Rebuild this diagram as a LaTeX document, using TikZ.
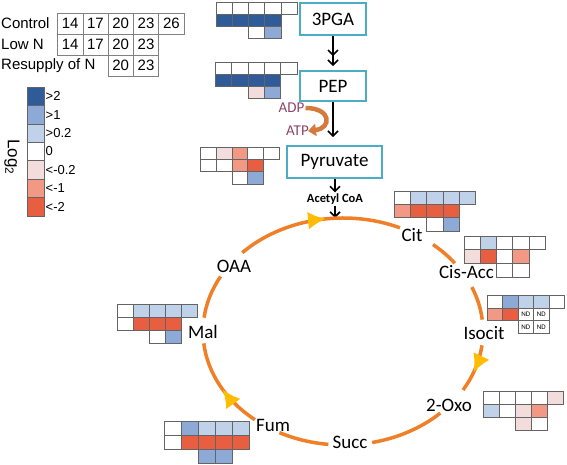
\documentclass[tikz,border=0pt]{standalone}
\usepackage{fontspec}
\setmainfont{Carlito}
\newfontfamily\arialf{Liberation Sans}
\usetikzlibrary{arrows.meta,decorations.markings}
\definecolor{dblue}{RGB}{47,92,152}
\definecolor{mblue}{RGB}{141,170,214}
\definecolor{lblue}{RGB}{192,209,234}
\definecolor{lpink}{RGB}{243,221,220}
\definecolor{hsalmon}{RGB}{241,153,132}
\definecolor{hred}{RGB}{231,94,64}
\definecolor{boxc}{RGB}{75,172,198}
\definecolor{cyc}{RGB}{240,128,40}
\definecolor{arrowgold}{RGB}{255,188,0}
\definecolor{adpc}{RGB}{140,70,105}
\definecolor{curvec}{RGB}{212,122,58}
\definecolor{gridc}{RGB}{100,100,100}
\newcommand{\hmrow}[5]{\foreach \cc [count=\ii from 0] in {#5}{\path[hcell,fill=\cc] ({#1+\ii*#3},{#2}) rectangle ++(#3,-#4);}}
\newcommand{\hmap}[7]{\hmrow{#1}{#2}{#3}{#4}{#5}\hmrow{#1}{#2-#4}{#3}{#4}{#6}\hmrow{#1+2*#3}{#2-2*#4}{#3}{#4}{#7}}
\begin{document}
\begin{tikzpicture}[x=1pt,y=1pt,
  hcell/.style={draw=gridc,line width=0.5pt},
  tcell/.style={draw=gray,line width=0.6pt,minimum width=25.3pt,minimum height=21pt,inner sep=0pt,font=\arialf\fontsize{15}{17}\selectfont},
  tlabel/.style={anchor=west,inner sep=0pt,font=\arialf\fontsize{15}{17}\selectfont},
  legsw/.style={draw=gridc,line width=0.5pt},
  leglabel/.style={anchor=west,inner sep=0pt,font=\arialf\fontsize{13}{15}\selectfont},
  pbox/.style={draw=boxc,line width=1.8pt,fill=white,inner sep=0pt,font=\fontsize{19}{22}\selectfont},
  blk/.style={black,line width=1.6pt},
  cyclabel/.style={inner sep=1pt,font=\fontsize{19}{22}\selectfont},
  cycarc/.style={cyc,line width=3.5pt},
  adplabel/.style={adpc,inner sep=0pt,font=\fontsize{15}{17}\selectfont},
  ndlabel/.style={inner sep=0pt,font=\fontsize{7}{8}\selectfont}]
\fill[white] (0,0) rectangle (567,465);
\useasboundingbox (0,0) rectangle (567,465);
% sampling table
\node[tlabel] (lctrl) at (1,441.5) {Control};
\node[tlabel] (llow) at (1,420.5) {Low N};
\node[tlabel] (lres) at (1,399.5) {Resupply of N};
\foreach \v [count=\i] in {14,17,20,23,26} \node[tcell] (ta\i) at ({57.5+25.3*(\i-0.5)},441.5) {\v};
\foreach \v [count=\i] in {14,17,20,23} \node[tcell] (tb\i) at ({57.5+25.3*(\i-0.5)},420.5) {\v};
\foreach \v [count=\i from 3] in {20,23} \node[tcell] (tc\i) at ({57.5+25.3*(\i-0.5)},399.5) {\v};
% legend
\foreach \col/\lab [count=\i from 0] in {dblue/{>2},mblue/{>1},lblue/{>0.2},white/{0},lpink/{<-0.2},hsalmon/{<-1},hred/{<-2}}{
  \path[legsw,fill=\col] (27,{378-18.4*\i}) rectangle (44,{378-18.4*(\i+1)});
  \node[leglabel] (leg\i) at (45.5,{378-18.4*(\i+0.5)}) {\lab};
}
\node[rotate=-90,inner sep=0pt,font=\arialf\fontsize{17}{19}\selectfont] (log) at (12,308) {Log\textsubscript{2}};
% heatmaps
\hmap{216}{463}{16.2}{12}{white,white,white,white,white}{dblue,dblue,dblue,dblue}{white,mblue}
\hmap{215}{403}{16.4}{12}{white,white,white,white,white}{dblue,dblue,dblue,dblue}{lpink,mblue}
\hmap{200}{318}{15.9}{12.3}{white,lpink,hsalmon,white,white}{white,white,hsalmon,hred}{white,mblue}
\hmap{394}{274}{16.3}{13.3}{white,lblue,lblue,lblue,lblue}{hsalmon,hred,hred,hred}{white,mblue}
\hmap{464}{229}{16.2}{13.7}{white,lblue,white,white,white}{lpink,hred,white,hsalmon}{white,white}
\hmap{487}{170}{15.5}{12.8}{white,mblue,lblue,lblue,white}{hsalmon,hred,white,white}{white,white}
\hmap{483}{74}{16}{13}{white,white,white,white,lpink}{lblue,white,lpink,hsalmon}{lpink,white}
\hmap{117}{161}{16}{13}{white,lblue,lblue,lblue,lblue}{white,hred,hred,hred}{white,mblue}
\hmap{164}{44}{17}{14}{white,mblue,lblue,lblue,lblue}{white,hred,hred,hred,hred}{mblue,mblue}
\node[ndlabel] (nd1) at (525.75,150.8) {ND};
\node[ndlabel] (nd2) at (541.25,150.8) {ND};
\node[ndlabel] (nd3) at (525.75,138) {ND};
\node[ndlabel] (nd4) at (541.25,138) {ND};
% pathway boxes
\node[pbox,minimum width=66pt,minimum height=32pt] (pga) at (333,446) {3PGA};
\node[pbox,minimum width=66pt,minimum height=30pt] (pep) at (333,379) {PEP};
\node[pbox,minimum width=95pt,minimum height=32pt] (pyr) at (334.5,303) {Pyruvate};
\node[inner sep=1pt,font=\bfseries\fontsize{12.5}{14}\selectfont] (acoa) at (335,266) {Acetyl CoA};
\coordinate (cyctop) at (335,247);
% ADP / ATP
\node[adplabel] (adp) at (291.5,357) {ADP};
\node[adplabel] (atp) at (297.5,334) {ATP};
\draw[curvec,line width=4.5pt,-{Triangle[length=8pt,width=12pt]}] ([xshift=1pt]adp.east) .. controls +(26,0) and +(24,3) .. ([xshift=-1pt]atp.east);
% black arrows
\draw[blk,-{Straight Barb[length=5pt,width=10pt,sep=3pt]Straight Barb[length=5pt,width=10pt]}] (pga.south) -- (pga.south |- pep.north) [shorten >=4pt];
\draw[blk,shorten >=8pt,-{Straight Barb[length=5pt,width=10pt]}] (pep.south) -- (pep.south |- pyr.north);
\draw[blk,-{Straight Barb[length=5pt,width=10pt]}] (pyr.south -| acoa.north) -- (acoa.north);
\draw[blk,-{Straight Barb[length=5pt,width=10pt]}] (acoa.south) -- (cyctop);
% TCA cycle
\coordinate (cc) at (343,133.5);
\tikzset{goldarrow/.style={postaction={decorate,decoration={markings,mark=at position #1 with {\arrow[color=arrowgold,scale=1.5]{Latex[length=12pt,width=12pt]}}}}}}
\draw[cycarc,goldarrow=0.55] (cc) ++(136:140pt and 113.5pt) arc[start angle=136,end angle=66,x radius=140pt,y radius=113.5pt];
\draw[cycarc] (cc) ++(50:140pt and 113.5pt) arc[start angle=50,end angle=37,x radius=140pt,y radius=113.5pt];
\draw[cycarc] (cc) ++(23:140pt and 113.5pt) arc[start angle=23,end angle=6,x radius=140pt,y radius=113.5pt];
\draw[cycarc,goldarrow=0.58] (cc) ++(-7:140pt and 113.5pt) arc[start angle=-7,end angle=-31,x radius=140pt,y radius=113.5pt];
\draw[cycarc] (cc) ++(-46:140pt and 113.5pt) arc[start angle=-46,end angle=-78,x radius=140pt,y radius=113.5pt];
\draw[cycarc] (cc) ++(-96:140pt and 113.5pt) arc[start angle=-96,end angle=-117,x radius=140pt,y radius=113.5pt];
\draw[cycarc,goldarrow=0.47] (cc) ++(-129:140pt and 113.5pt) arc[start angle=-129,end angle=-174,x radius=140pt,y radius=113.5pt];
\draw[cycarc] (cc) ++(173:140pt and 113.5pt) arc[start angle=173,end angle=151,x radius=140pt,y radius=113.5pt];
\node[cyclabel] (cit) at (412,230) {Cit};
\node[cyclabel] (cis) at (466.5,193) {Cis-Acc};
\node[cyclabel] (iso) at (484,132) {Isocit};
\node[cyclabel] (oxo) at (449,60) {2-Oxo};
\node[cyclabel] (succ) at (350,23) {Succ};
\node[cyclabel] (fum) at (273,40) {Fum};
\node[cyclabel] (mal) at (203,133) {Mal};
\node[cyclabel] (oaa) at (234,199) {OAA};
\end{tikzpicture}
\end{document}
